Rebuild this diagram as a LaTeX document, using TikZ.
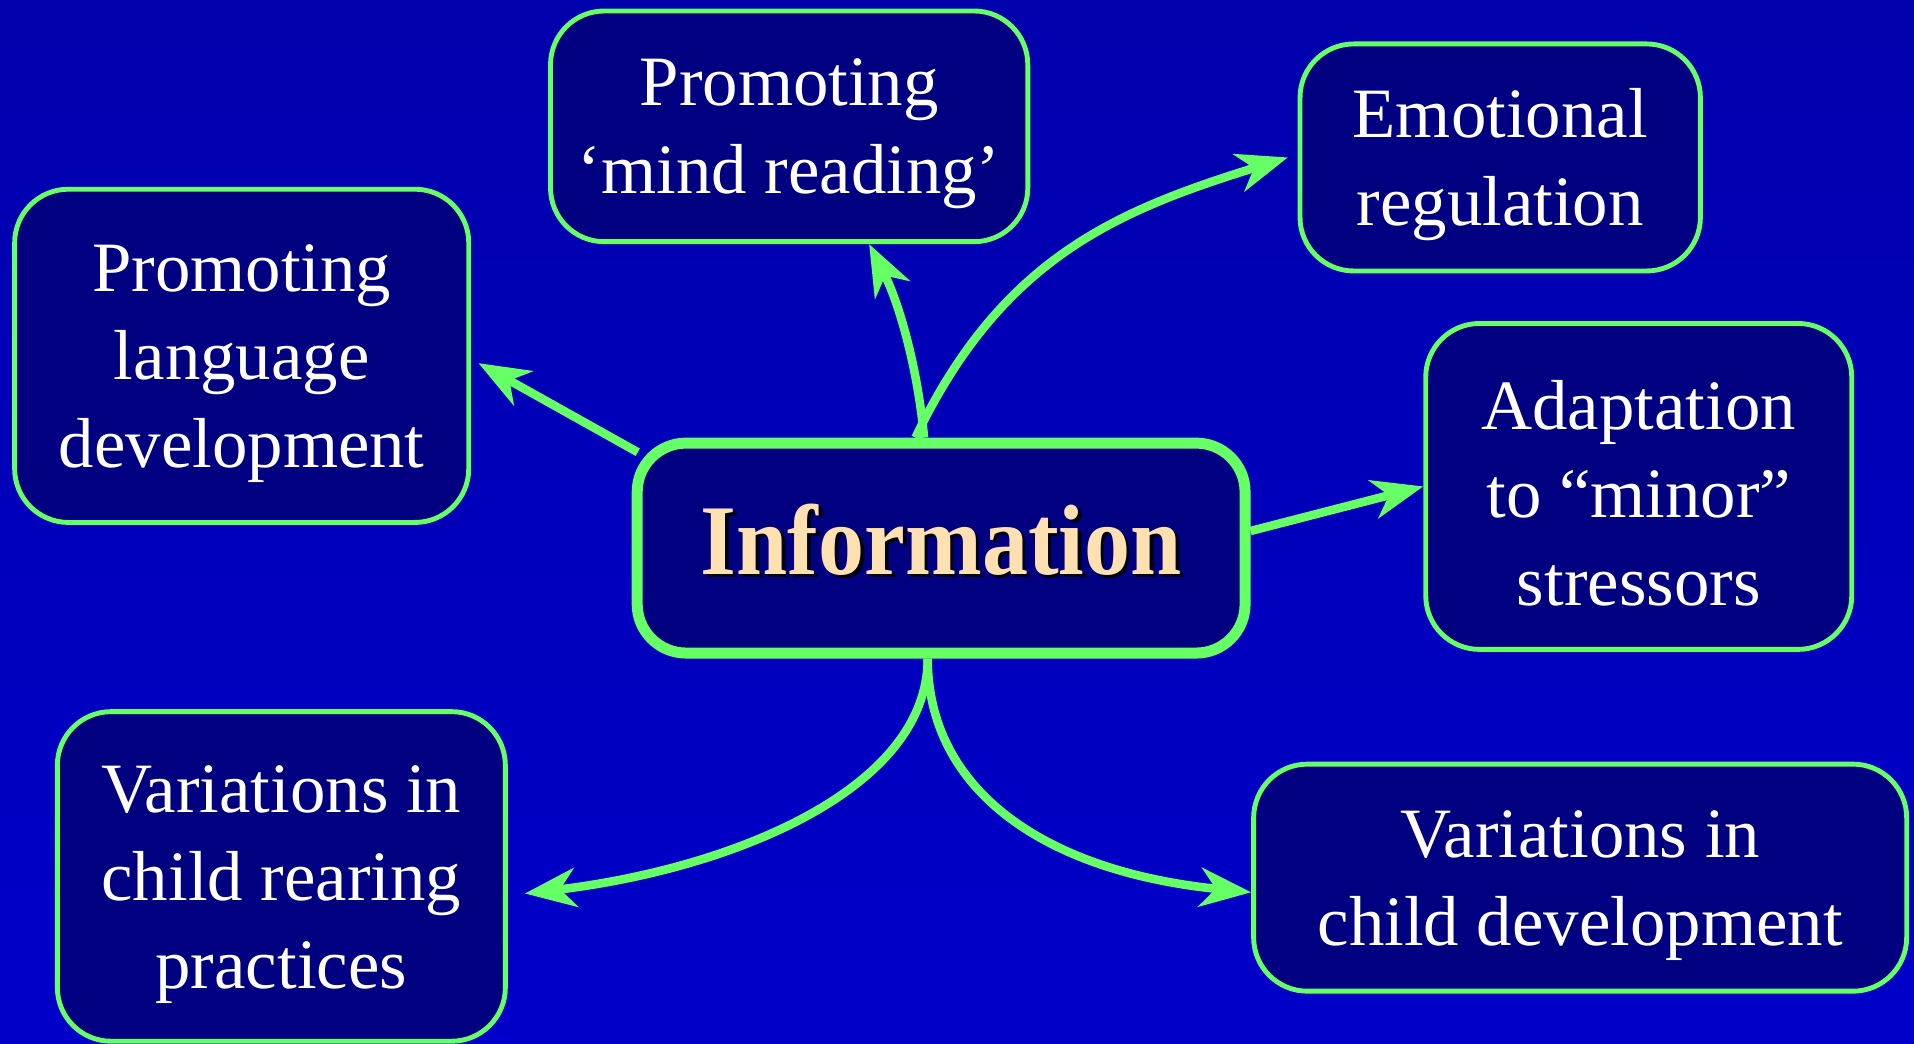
\documentclass[tikz,border=0pt]{standalone}
\usepackage{fontspec}
\setmainfont{Liberation Serif}
\newfontfamily\infofont[FakeStretch=0.92]{Liberation Serif}
\usetikzlibrary{arrows.meta}
\definecolor{bgtop}{RGB}{0,0,172}
\definecolor{bgmid}{RGB}{0,0,136}
\definecolor{bgbot}{RGB}{0,0,202}
\definecolor{boxfill}{RGB}{0,0,128}
\definecolor{lgreen}{RGB}{102,255,102}
\definecolor{cream}{RGB}{255,224,176}
\newcommand{\tup}{\rule{0pt}{25.6pt}}
\pgfdeclarelayer{bg}
\pgfsetlayers{bg,main}
\begin{document}
\begin{tikzpicture}[x=0.5pt,y=-0.5pt,
  box/.style={draw=lgreen, line width=2pt, fill=boxfill, rounded corners=22pt,
    text=white, font=\fontsize{29}{36}\selectfont, align=center, inner sep=0pt},
  hub/.style={draw=lgreen, line width=4.5pt, fill=boxfill, rounded corners=20pt, inner sep=0pt},
  infotxt/.style={font=\infofont\bfseries\fontsize{41}{41}\selectfont, inner sep=0pt},
  link/.style={draw=lgreen, line width=3.5pt, -{Stealth[length=21pt,width=16pt,inset=6.5pt]}}]

\node[box, minimum width=195.5pt, minimum height=94.5pt] (mind) at (646.5,103.5) {\tup Promoting\\‘mind reading’};
\node[box, minimum width=164pt, minimum height=93pt] (emo) at (1229,129) {\tup Emotional\\regulation};
\node[box, minimum width=186pt, minimum height=136.5pt] (lang) at (198,291.5) {\tup Promoting\\language\\development};
\node[box, minimum width=174.5pt, minimum height=133.5pt] (adapt) at (1342.5,398.5) {\tup Adaptation\\to “minor”\\stressors};
\node[box, minimum width=183.5pt, minimum height=135pt] (rear) at (230.5,718) {\tup Variations in\\child rearing\\practices};
\node[box, minimum width=267.5pt, minimum height=93pt] (dev) at (1294.5,719) {\tup Variations in\\child development};
\node[hub, minimum width=249pt, minimum height=86pt] (info) at (771,449) {};
\node[infotxt, text=black, opacity=0.85] (infoshadow) at (774,445) {Information};
\node[infotxt, text=cream] (infotext) at (771,442) {Information};

\begin{pgfonlayer}{bg}
\fill[top color=bgtop, middle color=bgmid, bottom color=bgbot] (0,0) rectangle (1568,855);
\draw[link] ([xshift=-7pt]info.north) .. controls (752,303) and (737,249) .. ([xshift=32.75pt]mind.south);
\draw[link] ([xshift=-10.5pt]info.north) .. controls (821,210) and (917,172) .. ([xshift=-4pt]emo.west);
\draw[link] ([xshift=2.5pt,yshift=-6pt]info.north west) -- ([xshift=3pt,yshift=-3pt]lang.east);
\draw[link] ([yshift=7pt]info.east) -- (adapt.west);
\draw[link] ([xshift=-5.5pt]info.south) .. controls (760,647) and (599,712) .. ([xshift=7pt,yshift=-7pt]rear.east);
\draw[link] ([xshift=-5.5pt]info.south) .. controls (760,647) and (855,714) .. ([yshift=-6pt]dev.west);
\end{pgfonlayer}
\end{tikzpicture}
\end{document}
